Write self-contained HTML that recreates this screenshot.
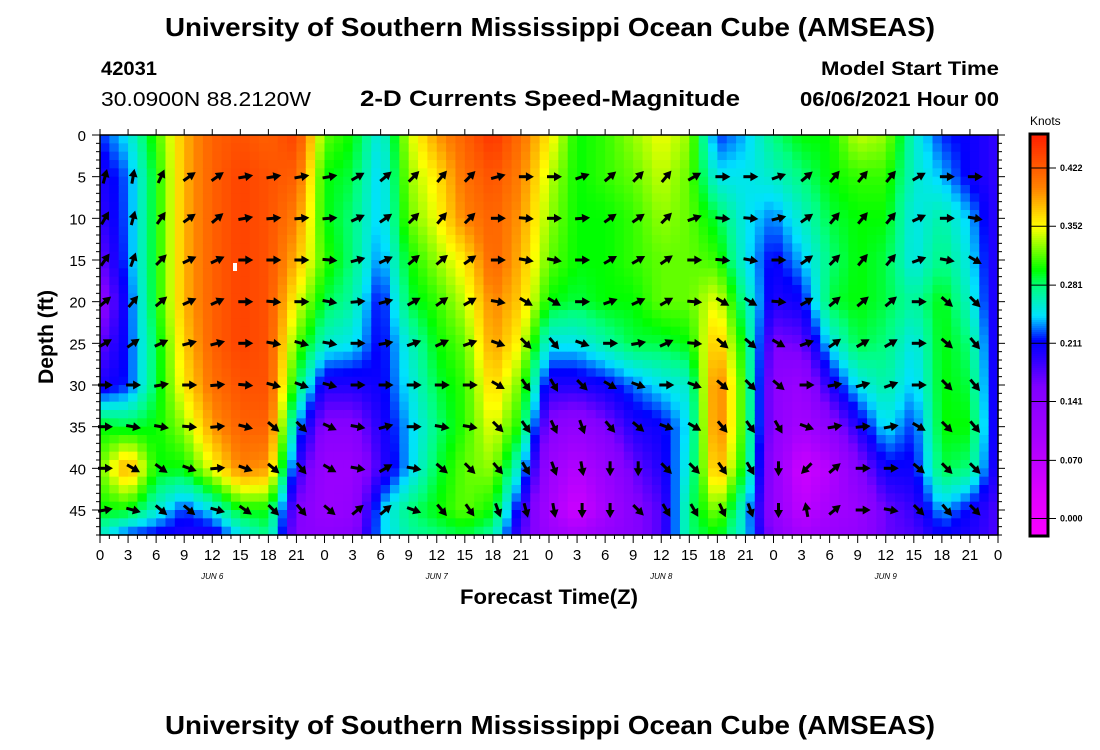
<!DOCTYPE html>
<html><head><meta charset="utf-8"><style>
html,body{margin:0;padding:0;background:#fff;}
svg{display:block;font-family:"Liberation Sans",sans-serif;}
</style></head><body>
<svg id="chart" width="1100" height="750" viewBox="0 0 1100 750" xmlns="http://www.w3.org/2000/svg">
<text x="550" y="36" text-anchor="middle" font-weight="bold" font-size="26" textLength="770" lengthAdjust="spacingAndGlyphs">University of Southern Mississippi Ocean Cube (AMSEAS)</text>
<text x="101" y="75" font-weight="bold" font-size="19" textLength="56" lengthAdjust="spacingAndGlyphs">42031</text>
<text x="101" y="106" font-size="20" textLength="210" lengthAdjust="spacingAndGlyphs">30.0900N  88.2120W</text>
<text x="360" y="106" font-weight="bold" font-size="22" textLength="380" lengthAdjust="spacingAndGlyphs">2-D Currents Speed-Magnitude</text>
<text x="999" y="75" text-anchor="end" font-weight="bold" font-size="19" textLength="178" lengthAdjust="spacingAndGlyphs">Model Start Time</text>
<text x="999" y="106" text-anchor="end" font-weight="bold" font-size="20" textLength="199" lengthAdjust="spacingAndGlyphs">06/06/2021 Hour 00</text>
<g id="heat"></g>
<g id="arrows"></g>
<rect x="233" y="263" width="4" height="8" fill="#fff"/>
<g id="axes"></g>
<text x="549" y="604" text-anchor="middle" font-weight="bold" font-size="21" textLength="178" lengthAdjust="spacingAndGlyphs">Forecast Time(Z)</text>
<text transform="translate(53,337) rotate(-90)" text-anchor="middle" font-weight="bold" font-size="21" textLength="94" lengthAdjust="spacingAndGlyphs">Depth (ft)</text>
<g id="cbar"></g>
<text x="550" y="734" text-anchor="middle" font-weight="bold" font-size="26" textLength="770" lengthAdjust="spacingAndGlyphs">University of Southern Mississippi Ocean Cube (AMSEAS)</text>
</svg>
<script>
const hours=[0,3,6,9,12,15,18,21,24,27,30,33,36,39,42,45,48,51,54,57,60,63,66,69,72,75,78,81,84,87,90,93,96];
const depths=[0,5,10,15,20,25,30,35,40,45,48];
// speed (knots) per hour column, per depth
const speed=[
[0.22,0.20,0.19,0.17,0.14,0.17,0.20,0.30,0.32,0.30,0.26],
[0.25,0.23,0.23,0.23,0.22,0.22,0.22,0.29,0.39,0.30,0.22],
[0.31,0.30,0.30,0.30,0.30,0.29,0.29,0.30,0.30,0.26,0.21],
[0.38,0.38,0.38,0.38,0.38,0.37,0.36,0.33,0.30,0.22,0.20],
[0.42,0.42,0.42,0.42,0.42,0.42,0.41,0.39,0.35,0.25,0.20],
[0.43,0.44,0.44,0.44,0.44,0.44,0.43,0.42,0.40,0.30,0.25],
[0.42,0.43,0.43,0.43,0.43,0.43,0.43,0.42,0.39,0.30,0.28],
[0.44,0.42,0.40,0.38,0.35,0.32,0.29,0.24,0.20,0.16,0.15],
[0.32,0.30,0.30,0.31,0.29,0.26,0.20,0.15,0.12,0.12,0.14],
[0.30,0.29,0.28,0.28,0.27,0.25,0.20,0.15,0.12,0.13,0.15],
[0.25,0.24,0.24,0.23,0.21,0.21,0.21,0.20,0.19,0.24,0.24],
[0.34,0.33,0.32,0.30,0.29,0.26,0.25,0.24,0.24,0.28,0.27],
[0.39,0.36,0.35,0.33,0.31,0.30,0.29,0.28,0.29,0.30,0.28],
[0.42,0.41,0.40,0.36,0.34,0.32,0.31,0.31,0.32,0.32,0.29],
[0.45,0.43,0.42,0.42,0.40,0.39,0.37,0.35,0.33,0.30,0.27],
[0.41,0.40,0.39,0.38,0.37,0.35,0.32,0.30,0.25,0.20,0.18],
[0.36,0.34,0.33,0.32,0.30,0.25,0.20,0.15,0.12,0.10,0.12],
[0.30,0.30,0.30,0.30,0.29,0.25,0.20,0.13,0.08,0.05,0.10],
[0.31,0.31,0.30,0.30,0.30,0.27,0.21,0.16,0.12,0.10,0.13],
[0.33,0.32,0.31,0.31,0.30,0.29,0.23,0.20,0.17,0.15,0.15],
[0.35,0.34,0.33,0.32,0.32,0.29,0.25,0.21,0.20,0.18,0.18],
[0.33,0.32,0.32,0.32,0.32,0.30,0.26,0.25,0.26,0.28,0.28],
[0.22,0.25,0.29,0.31,0.35,0.38,0.41,0.41,0.39,0.33,0.30],
[0.24,0.25,0.25,0.25,0.27,0.29,0.30,0.30,0.29,0.25,0.25],
[0.28,0.26,0.23,0.21,0.20,0.16,0.14,0.14,0.13,0.13,0.15],
[0.30,0.28,0.26,0.24,0.21,0.17,0.12,0.10,0.05,0.07,0.10],
[0.30,0.30,0.29,0.28,0.29,0.25,0.20,0.14,0.08,0.10,0.12],
[0.34,0.31,0.30,0.30,0.30,0.29,0.25,0.20,0.15,0.12,0.13],
[0.33,0.31,0.30,0.29,0.29,0.28,0.27,0.25,0.21,0.17,0.17],
[0.26,0.26,0.25,0.25,0.27,0.25,0.24,0.22,0.21,0.19,0.18],
[0.22,0.24,0.27,0.28,0.30,0.30,0.30,0.30,0.29,0.24,0.21],
[0.21,0.21,0.24,0.25,0.26,0.28,0.29,0.30,0.28,0.21,0.20],
[0.19,0.19,0.19,0.19,0.19,0.19,0.19,0.19,0.19,0.18,0.18]];
const arrowHours=[0,3,6,9,12,15,18,21,24,27,30,33,36,39,42,45,48,51,54,57,60,63,66,69,72,75,78,81,84,87,90,93];
const arrowDepths=[5,10,15,20,25,30,35,40,45];
// direction in degrees (0 = east, 90 = north)
const arrowDir=[
[75,60,55,40,30,0,0,0,10],[80,75,70,50,35,0,-10,-30,-15],[65,55,45,40,25,10,-10,-35,-40],
[35,35,25,25,15,0,-5,-20,-40],[35,40,25,25,15,5,5,5,-15],[10,10,0,0,0,-5,-15,-20,-35],
[10,5,0,-5,-10,-15,-40,-40,-45],[10,5,0,0,-15,-20,-45,-50,-50],[10,5,-5,-10,-10,-15,-25,-30,-40],
[30,25,15,5,0,0,-10,-10,40],[40,35,25,15,10,0,15,30,40],[45,45,40,30,20,0,0,-10,-20],
[50,50,40,35,25,0,-10,-40,-50],[45,45,35,30,20,0,-10,-45,-55],[15,0,0,-10,-20,-30,-45,-50,-70],
[0,-5,-10,-30,-45,-55,-55,-60,-75],[0,0,-10,-30,-50,-60,-65,-70,-80],[20,5,0,0,-20,-45,-70,-80,-90],
[40,35,30,20,0,-30,-50,-90,-90],[45,35,30,25,10,-20,-40,-90,-45],[50,45,35,30,25,0,-20,-45,-60],
[30,20,0,-5,-5,-20,-30,-45,-60],[0,-5,-5,-30,-40,-40,-50,-55,-65],[0,-5,-10,-30,-40,-45,-55,-60,-70],
[20,15,0,-5,-30,-40,-60,-90,-90],[40,35,35,30,20,0,-20,-135,100],[50,50,45,40,35,10,10,40,40],
[50,50,50,40,30,15,5,0,0],[50,50,50,40,30,20,10,0,-10],[30,25,20,0,0,0,-30,-40,-45],
[0,0,-10,-40,-40,-45,-45,-45,-50],[0,-10,-30,-45,-50,-50,-50,-45,-45]];
const xTickLabels=['0','3','6','9','12','15','18','21'];
const dayLabels=['JUN 6','JUN 7','JUN 8','JUN 9'];
const yTickLabels=['0','5','10','15','20','25','30','35','40','45'];
const cbarTicks=[0.422,0.352,0.281,0.211,0.141,0.070,0.000];
const cbarTickLabels=['0.422','0.352','0.281','0.211','0.141','0.070','0.000'];

const NS='http://www.w3.org/2000/svg';
const X0=100,X1=998,Y0=135,PXFT=(510-135)/45;
const xs=h=>X0+(X1-X0)*h/96;
const ys=d=>Y0+d*PXFT;
const YB=ys(48);
const cbTop=134,cbBot=536,vTop=0.463,vBot=-0.021;
const cy=v=>cbTop+(vTop-v)/(vTop-vBot)*(cbBot-cbTop);
const stops=[[-0.03,[255,0,255]],[0.03,[224,0,255]],[0.10,[165,0,255]],[0.16,[128,0,255]],[0.195,[40,0,255]],[0.215,[0,0,255]],[0.245,[0,225,255]],[0.28,[0,255,128]],[0.30,[0,255,0]],[0.352,[255,255,0]],[0.40,[255,128,0]],[0.47,[255,20,0]]];
function col(v){
  if(v<=stops[0][0])return 'rgb('+stops[0][1]+')';
  for(let i=1;i<stops.length;i++){if(v<=stops[i][0]){const a=stops[i-1],b=stops[i],t=(v-a[0])/(b[0]-a[0]);
    return 'rgb('+a[1].map((c,k)=>Math.round(c+(b[1][k]-c)*t)).join(',')+')';}}
  return 'rgb('+stops[stops.length-1][1]+')';
}
function mk(tag,attrs,parent){const e=document.createElementNS(NS,tag);for(const k in attrs)e.setAttribute(k,attrs[k]);parent.appendChild(e);return e;}
function interp(arr,v){let i=0;while(i<arr.length-2&&v>arr[i+1])i++;return [i,Math.max(0,Math.min(1,(v-arr[i])/(arr[i+1]-arr[i])))];}
function sample(h,d){const [i,t]=interp(hours,h),[j,u]=interp(depths,d);
  const a=speed[i][j],b=speed[i+1][j],c=speed[i][j+1],e=speed[i+1][j+1];
  return (a*(1-t)+b*t)*(1-u)+(c*(1-t)+e*t)*u;}
const heat=document.getElementById('heat');
for(let h=0;h<96;h++)for(let d=0;d<48;d++){
  const x=xs(h),y=ys(d);
  const r=mk('rect',{x:x.toFixed(2),y:y.toFixed(2),width:(xs(h+1)-x+0.6).toFixed(2),height:(PXFT+0.6).toFixed(2),fill:col(sample(h+0.5,d+0.5))},heat);
  
  
}
const ar=document.getElementById('arrows');
arrowHours.forEach((h,i)=>arrowDepths.forEach((d,j)=>{
  const g=mk('g',{transform:`translate(${(xs(h)+5).toFixed(1)},${ys(d).toFixed(1)}) rotate(${-arrowDir[i][j]})`},ar);
  
  
  mk('line',{x1:-7,y1:0,x2:2,y2:0,stroke:'#000','stroke-width':3},g);
  mk('path',{d:'M0,-4.5 L8,0 L0,4.5 Z',fill:'#000'},g);
}));
const ax=document.getElementById('axes');
mk('rect',{x:X0,y:Y0,width:X1-X0,height:YB-Y0,fill:'none',stroke:'#000','stroke-width':1.5},ax);
for(let h=0;h<=96;h++){const x=xs(h),mj=h%3==0;
  mk('line',{x1:x,y1:YB,x2:x,y2:YB+(mj?8:4),stroke:'#000'},ax);
  mk('line',{x1:x,y1:Y0,x2:x,y2:Y0-(mj?6:0),stroke:'#000'},ax);
  if(mj){const t=mk('text',{x:x,y:YB+25,'text-anchor':'middle','font-size':15},ax);t.textContent=h==96?'0':xTickLabels[(h%24)/3];
    
    }
}
dayLabels.forEach((s,i)=>{const t=mk('text',{x:xs(12+24*i),y:579,'text-anchor':'middle','font-size':8,'font-style':'italic'},ax);t.textContent=s;
  
  });
for(let d=0;d<=48;d++){const y=ys(d),mj=d%5==0;
  mk('line',{x1:X0,y1:y,x2:X0-(mj?8:4),y2:y,stroke:'#000'},ax);
  mk('line',{x1:X1,y1:y,x2:X1+(mj?7:4),y2:y,stroke:'#000'},ax);
  if(mj){const t=mk('text',{x:86,y:y+6,'text-anchor':'end','font-size':15},ax);t.textContent=yTickLabels[d/5];
    
    }
}
const cb=document.getElementById('cbar');
for(let p=cbTop;p<cbBot;p+=2){const v=vTop-(p-cbTop)/(cbBot-cbTop)*(vTop-vBot);
  mk('rect',{x:1030,y:p,width:18,height:2.5,fill:col(v)},cb);}
mk('rect',{x:1030,y:cbTop,width:18,height:cbBot-cbTop,fill:'none',stroke:'#000','stroke-width':3},cb);
cbarTicks.forEach((v,i)=>{const y=cy(v);
  mk('line',{x1:1030,y1:y,x2:1056,y2:y,stroke:'#000'},cb);
  const t=mk('text',{x:1060,y:y+3,'font-size':9,'font-weight':'bold'},cb);t.textContent=cbarTickLabels[i];
  
  });
const kt=mk('text',{x:1030,y:125,'font-size':12},cb);kt.textContent='Knots';


</script>
</body></html>
